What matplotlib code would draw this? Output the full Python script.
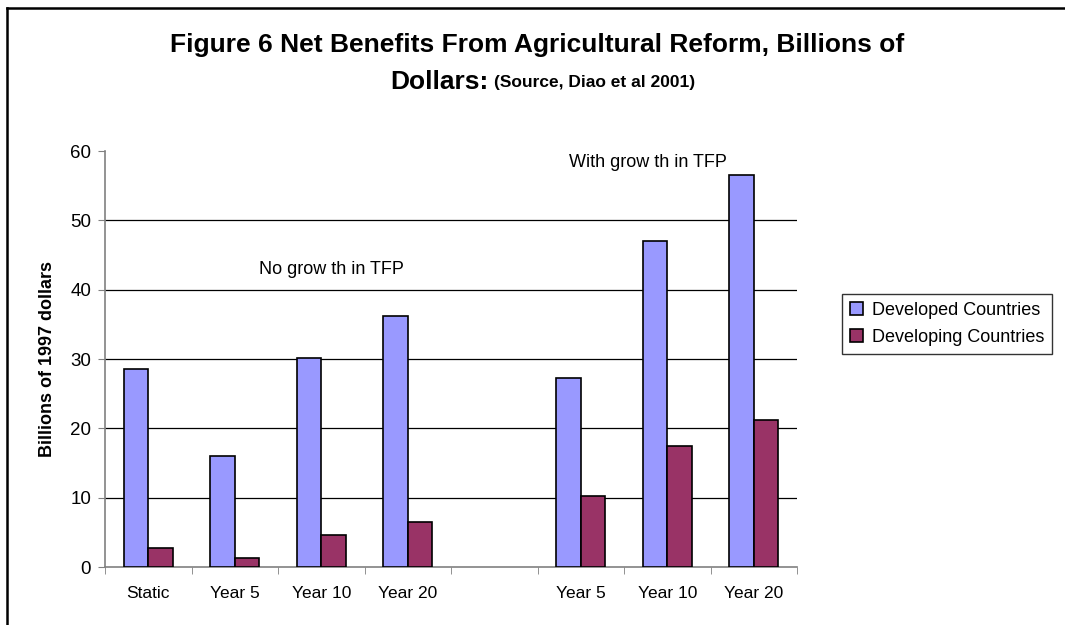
import numpy as np
import matplotlib.pyplot as plt
from matplotlib.lines import Line2D

categories = ['Static', 'Year 5', 'Year 10', 'Year 20', '', 'Year 5', 'Year 10', 'Year 20']
developed = [28.5, 16.0, 30.2, 36.2, 0, 27.3, 47.0, 56.5]
developing = [2.7, 1.3, 4.6, 6.5, 0, 10.2, 17.4, 21.2]
has_data = [True, True, True, True, False, True, True, True]

plt.rcParams['font.family'] = ['Liberation Sans', 'DejaVu Sans']

fig = plt.figure(figsize=(10.65, 6.25), dpi=100)
ax = fig.add_axes([105 / 1065, 1 - 567 / 625, 692 / 1065, 416 / 625])

x = np.arange(len(categories))
w = 1 / 3.5
xs = x[has_data]
dev = np.array(developed)[has_data]
dvg = np.array(developing)[has_data]
ax.bar(xs - w / 2, dev, w, color='#9999ff', edgecolor='black', linewidth=1.2,
       label='Developed Countries', zorder=3)
ax.bar(xs + w / 2, dvg, w, color='#993366', edgecolor='black', linewidth=1.2,
       label='Developing Countries', zorder=3)

ax.set_xlim(-0.5, len(categories) - 0.5)
ax.set_ylim(0, 60)
ax.set_yticks(range(0, 61, 10))
ax.tick_params(axis='y', labelsize=13.5, length=5, color='#808080', pad=5)
for yv in range(10, 60, 10):
    ax.axhline(yv, color='black', linewidth=0.9, zorder=1)

ax.set_xticks(x)
ax.set_xticklabels(categories, fontsize=12.5)
ax.set_xticks(np.arange(-0.5, len(categories)), minor=True)
ax.tick_params(axis='x', which='major', length=0, pad=14)
ax.tick_params(axis='x', which='minor', length=5, color='#808080')

for side in ['top', 'right']:
    ax.spines[side].set_visible(False)
for side in ['left', 'bottom']:
    ax.spines[side].set_color('#808080')
    ax.spines[side].set_linewidth(1.2)

ax.set_ylabel('Billions of 1997 dollars', fontsize=13, fontweight='bold', labelpad=10)

ax.text(2.12, 42.9, 'No grow th in TFP', fontsize=13, ha='center', va='center')
ax.text(5.78, 58.4, 'With grow th in TFP', fontsize=13, ha='center', va='center')

leg = fig.legend(loc='upper left', bbox_to_anchor=(842 / 1065, 1 - 294 / 625),
                 fontsize=13, frameon=True, fancybox=False, edgecolor='black',
                 handlelength=0.7, handleheight=0.7, handletextpad=0.5,
                 borderpad=0.45, labelspacing=0.55, borderaxespad=0)
leg.get_frame().set_linewidth(1.0)

fig.text(0.504, 1 - 45 / 625, 'Figure 6 Net Benefits From Agricultural Reform, Billions of',
         fontsize=19, fontweight='bold', ha='center', va='center')
fig.text(488 / 1065, 1 - 82 / 625, 'Dollars:', fontsize=19, fontweight='bold',
         ha='right', va='center')
fig.text(494 / 1065, 1 - 82 / 625, '(Source, Diao et al 2001)', fontsize=12.5, fontweight='bold',
         ha='left', va='center')

# chart frame along the left and top edges
fig.add_artist(Line2D([7 / 1065, 7 / 1065], [0, 1 - 8 / 625], color='black', linewidth=1.8))
fig.add_artist(Line2D([7 / 1065, 1], [1 - 8 / 625, 1 - 8 / 625], color='black', linewidth=1.8))

fig.savefig('out.png', dpi=100)
